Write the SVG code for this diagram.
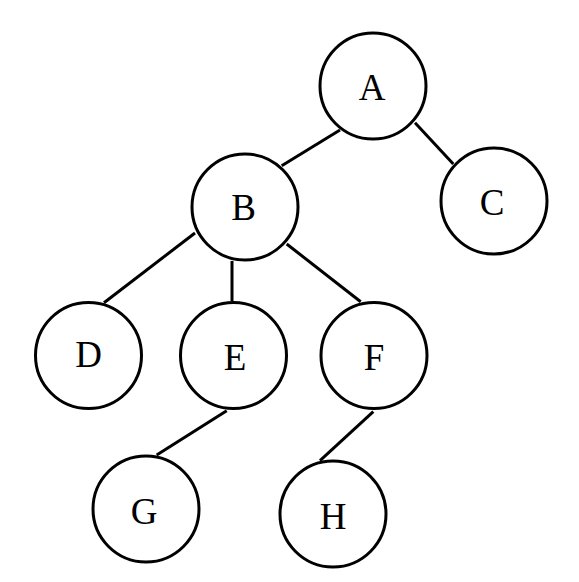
<svg xmlns="http://www.w3.org/2000/svg" width="579" height="582" viewBox="0 0 579 582">
<style>
.n circle{fill:#fff;stroke:#000;stroke-width:3}
.n text{font-family:"Liberation Serif","Times New Roman",serif;font-size:37px;text-anchor:middle;fill:#000}
.e line{stroke:#000;stroke-width:3}
</style>
<rect width="579" height="582" fill="#fff"/>
<g id="edges" class="e">
<line x1="340" y1="130" x2="281.7" y2="165.7"/>
<line x1="415" y1="122.7" x2="453.3" y2="164"/>
<line x1="195" y1="233" x2="104" y2="302.7"/>
<line x1="232" y1="261" x2="232" y2="301"/>
<line x1="286.7" y1="244" x2="360.7" y2="301.7"/>
<line x1="226.7" y1="410.7" x2="156.7" y2="455"/>
<line x1="373.3" y1="411.7" x2="320" y2="460.7"/>
</g>
<g id="A" class="n"><circle cx="373" cy="86" r="53"/><text x="372" y="99.5">A</text></g>
<g id="B" class="n"><circle cx="245" cy="207" r="53"/><text x="243.5" y="219.5">B</text></g>
<g id="C" class="n"><circle cx="494" cy="201" r="53"/><text x="492" y="214.5">C</text></g>
<g id="D" class="n"><circle cx="88.5" cy="355.5" r="53"/><text x="88.5" y="367">D</text></g>
<g id="E" class="n"><circle cx="233.5" cy="355.5" r="53"/><text x="235" y="369.5">E</text></g>
<g id="F" class="n"><circle cx="374" cy="355.5" r="53"/><text x="374" y="370">F</text></g>
<g id="G" class="n"><circle cx="146" cy="509" r="53"/><text x="144" y="523.5">G</text></g>
<g id="H" class="n"><circle cx="333" cy="514" r="53"/><text x="333" y="529">H</text></g>
</svg>
